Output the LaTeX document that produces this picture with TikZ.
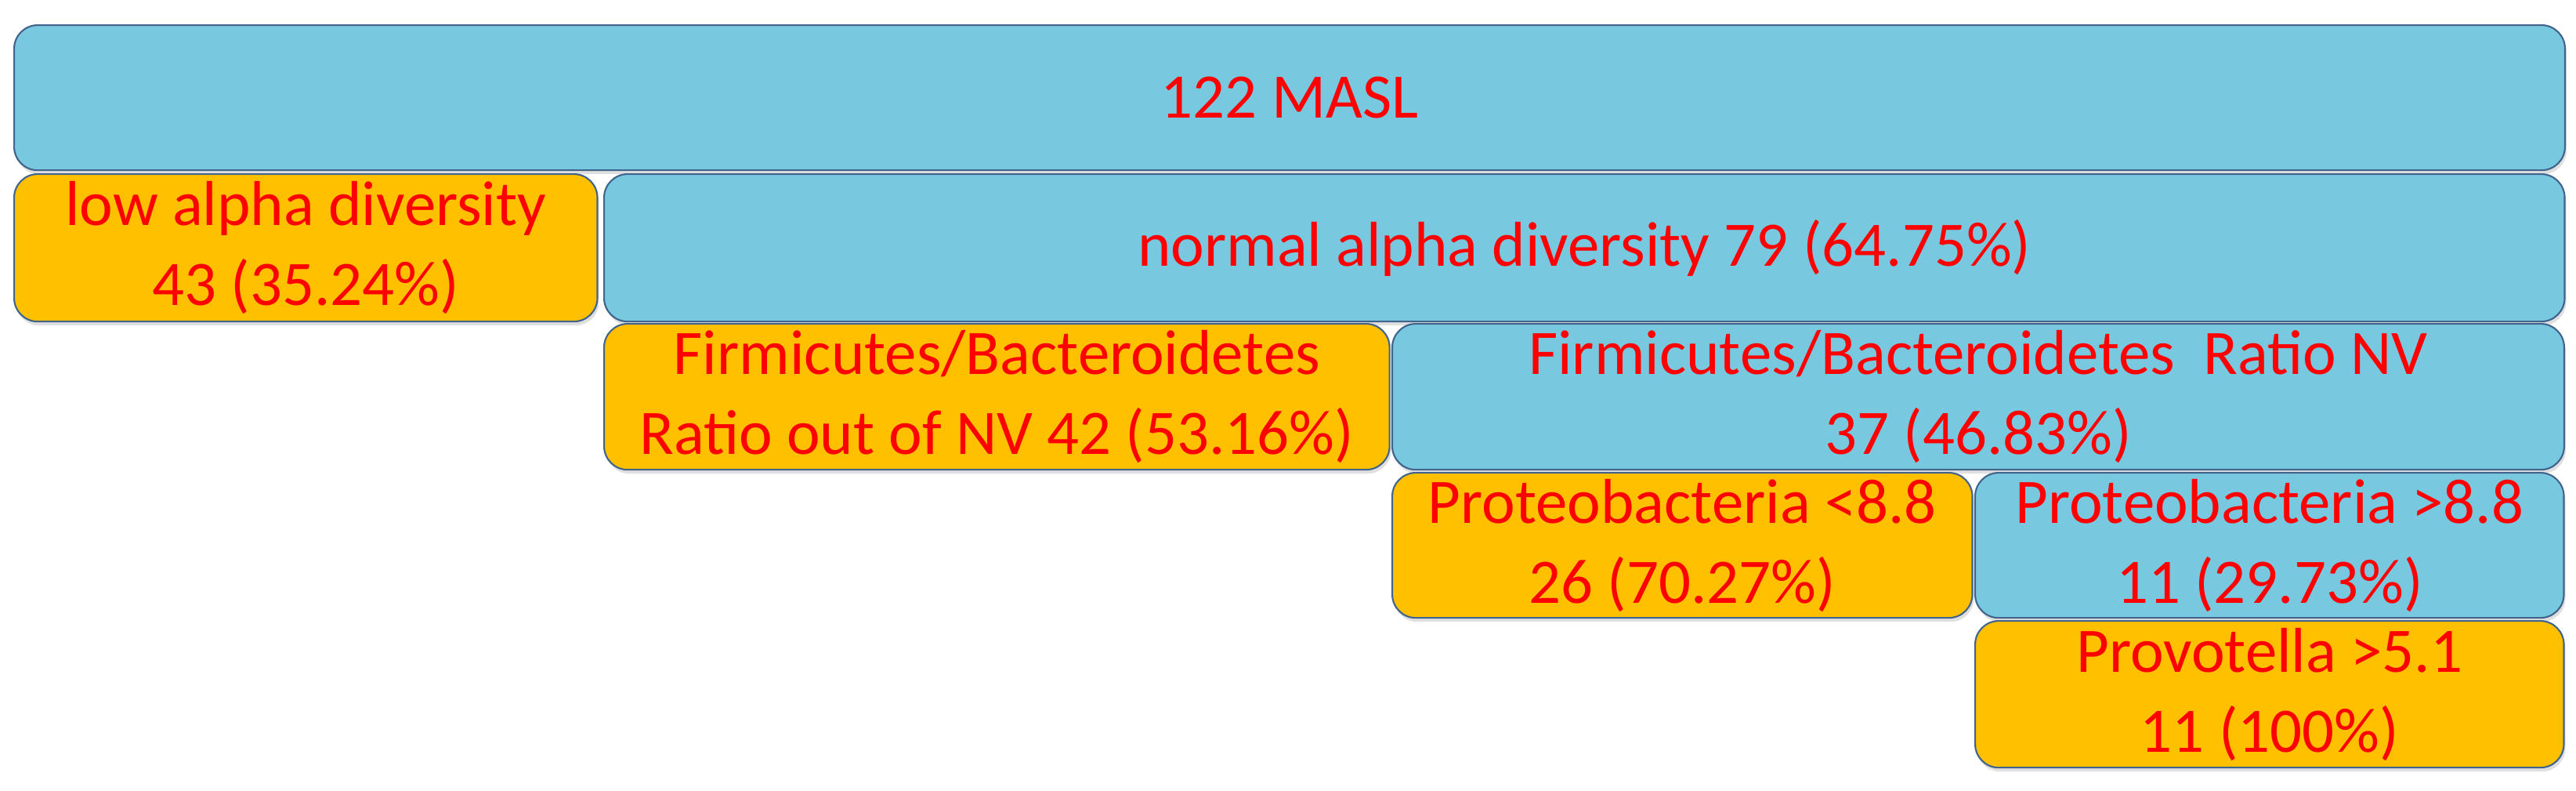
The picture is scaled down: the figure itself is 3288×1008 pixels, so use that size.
\documentclass[tikz,border=0pt]{standalone}
\usepackage{fontspec}
\setmainfont{Carlito}
\usetikzlibrary{shadows}
\definecolor{boxblue}{RGB}{120,200,224}
\definecolor{boxgold}{RGB}{255,192,0}
\definecolor{boxedge}{RGB}{65,100,140}
\begin{document}
\begin{tikzpicture}[x=0.01cm, y=-0.01cm]
    \tikzset{
        cell/.style={draw=boxedge, line width=0.6pt, rounded corners=0.3cm,
            anchor=north west, align=center, text=red, inner sep=0pt,
            font=\fontsize{23}{29}\selectfont,
            drop shadow={opacity=0.25, shadow xshift=0.02cm, shadow yshift=-0.05cm}},
        bluecell/.style={cell, fill=boxblue},
        goldcell/.style={cell, fill=boxgold}
    }
    \useasboundingbox (0,0) rectangle (3288,1008);
    \node[bluecell, minimum width=32.54cm, minimum height=1.85cm] (masl) at (17,31) {122 MASL};
    \node[goldcell, minimum width=7.44cm, minimum height=1.88cm] (lowalpha) at (17,221) {low alpha diversity\\43 (35.24\%)};
    \node[bluecell, minimum width=25.01cm, minimum height=1.88cm] (normalpha) at (770,221) {normal alpha diversity 79 (64.75\%)};
    \node[goldcell, minimum width=10.02cm, minimum height=1.86cm] (fbout) at (770,412) {Firmicutes/Bacteroidetes\\Ratio out of NV 42 (53.16\%)};
    \node[bluecell, minimum width=14.95cm, minimum height=1.86cm] (fbnv) at (1776,412) {Firmicutes/Bacteroidetes\ \ Ratio NV\\37 (46.83\%)};
    \node[goldcell, minimum width=7.40cm, minimum height=1.85cm] (proteolow) at (1776,602) {Proteobacteria <8.8\\26 (70.27\%)};
    \node[bluecell, minimum width=7.51cm, minimum height=1.85cm] (proteohigh) at (2520,602) {Proteobacteria >8.8\\11 (29.73\%)};
    \node[goldcell, minimum width=7.51cm, minimum height=1.87cm] (provotella) at (2520,791) {Provotella >5.1\\11 (100\%)};
\end{tikzpicture}
\end{document}
